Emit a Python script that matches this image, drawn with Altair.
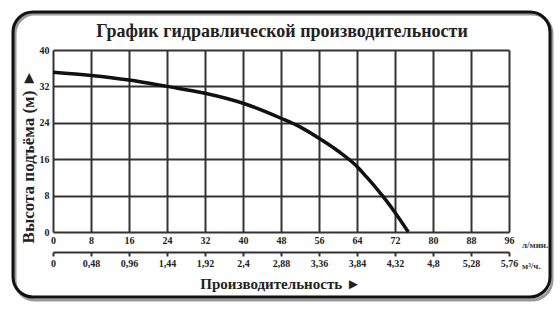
import altair as alt
import pandas as pd

# Data
flow_lpm = [0, 8, 16, 24, 32, 40, 48, 52, 56, 60, 64, 66, 68, 70, 72, 74.8]
head_m = [35.1, 34.4, 33.4, 32.0, 30.5, 28.3, 25.0, 23.1, 20.6, 17.8, 14.4, 12.1, 9.7, 7.1, 4.3, 0.0]

x_ticks_lpm = [0, 8, 16, 24, 32, 40, 48, 56, 64, 72, 80, 88, 96]
x_ticks_m3h = [0, 0.48, 0.96, 1.44, 1.92, 2.4, 2.88, 3.36, 3.84, 4.32, 4.8, 5.28, 5.76]
y_ticks = [0, 8, 16, 24, 32, 40]

title_text = "График гидравлической производительности"
y_title = "Высота подъёма (м) ►"
x_title = "Производительность ►"
unit_lpm = "л/мин."
unit_m3h = "м³/ч."

SERIF = "Liberation Serif"

curve_df = pd.DataFrame({"q": flow_lpm, "h": head_m})
m3h_df = pd.DataFrame({"m3h": x_ticks_m3h})
one = pd.DataFrame({"k": [0]})

W, H = 456, 182

# Frame (rounded, with shadow)
shadow = alt.Chart(one).mark_rect(
    filled=False, stroke="#9a9a9a", strokeWidth=3, cornerRadius=20
).encode(x=alt.value(-38), x2=alt.value(499), y=alt.value(-36), y2=alt.value(250))

frame = alt.Chart(one).mark_rect(
    filled=False, stroke="#111", strokeWidth=3, cornerRadius=20
).encode(x=alt.value(-40), x2=alt.value(497), y=alt.value(-38), y2=alt.value(247))

title = alt.Chart(pd.DataFrame({"t": [title_text]})).mark_text(
    font=SERIF, fontWeight="bold", fontSize=18, color="#222",
    align="center", baseline="alphabetic"
).encode(text="t:N", x=alt.value(229), y=alt.value(-13))

curve = alt.Chart(curve_df).mark_line(
    color="#111", strokeWidth=3.5, interpolate="monotone"
).encode(
    x=alt.X("q:Q", scale=alt.Scale(domain=[0, 96], nice=False),
            axis=alt.Axis(values=x_ticks_lpm, title=None, ticks=False, domain=False,
                          grid=True, gridColor="#333", gridWidth=2,
                          labelFont=SERIF, labelFontWeight="bold", labelFontSize=10,
                          labelColor="#222", labelPadding=3, labelFlush=False)),
    y=alt.Y("h:Q", scale=alt.Scale(domain=[0, 40], nice=False),
            axis=alt.Axis(values=y_ticks, ticks=False, domain=False,
                          grid=True, gridColor="#333", gridWidth=2,
                          labelFont=SERIF, labelFontWeight="bold", labelFontSize=10,
                          labelColor="#222", labelPadding=4,
                          title=y_title, titleFont=SERIF, titleFontWeight="bold",
                          titleFontSize=17, titleColor="#222", titleAngle=-90,
                          titleX=-20, titleY=106, titleAlign="center",
                          titleBaseline="alphabetic")),
)

second_axis = alt.Chart(m3h_df).mark_point(opacity=0).encode(
    x=alt.X("m3h:Q", scale=alt.Scale(domain=[0, 5.76], nice=False),
            axis=alt.Axis(orient="bottom", offset=20, values=x_ticks_m3h, grid=False,
                          domain=True, domainColor="#333", domainWidth=2,
                          ticks=True, tickColor="#333", tickWidth=2, tickSize=4,
                          labelExpr="replace(toString(datum.value), '.', ',')",
                          labelFont=SERIF, labelFontWeight="bold", labelFontSize=10,
                          labelColor="#222", labelPadding=2, labelFlush=False,
                          title=x_title, titleFont=SERIF, titleFontWeight="bold",
                          titleFontSize=15, titleColor="#222",
                          titleX=227, titleY=31, titleBaseline="middle",
                          titleAlign="center")),
)

units = alt.Chart(pd.DataFrame({"t": [unit_lpm, unit_m3h], "py": [195, 216]})).mark_text(
    font=SERIF, fontSize=9, fontWeight="bold", color="#333", align="left", baseline="middle"
).encode(text="t:N", x=alt.value(469), y=alt.Y("py:Q", scale=None))

chart = alt.layer(shadow, frame, title, curve, second_axis, units).resolve_scale(
    x="independent"
).properties(
    width=W, height=H,
    autosize=alt.AutoSizeParams(type="none"),
    padding={"left": 53, "top": 50, "right": 51, "bottom": 77},
).configure_view(stroke="#333", strokeWidth=2).configure(background="white")

chart.save("out.html", embed_options={"renderer": "svg", "actions": False})
